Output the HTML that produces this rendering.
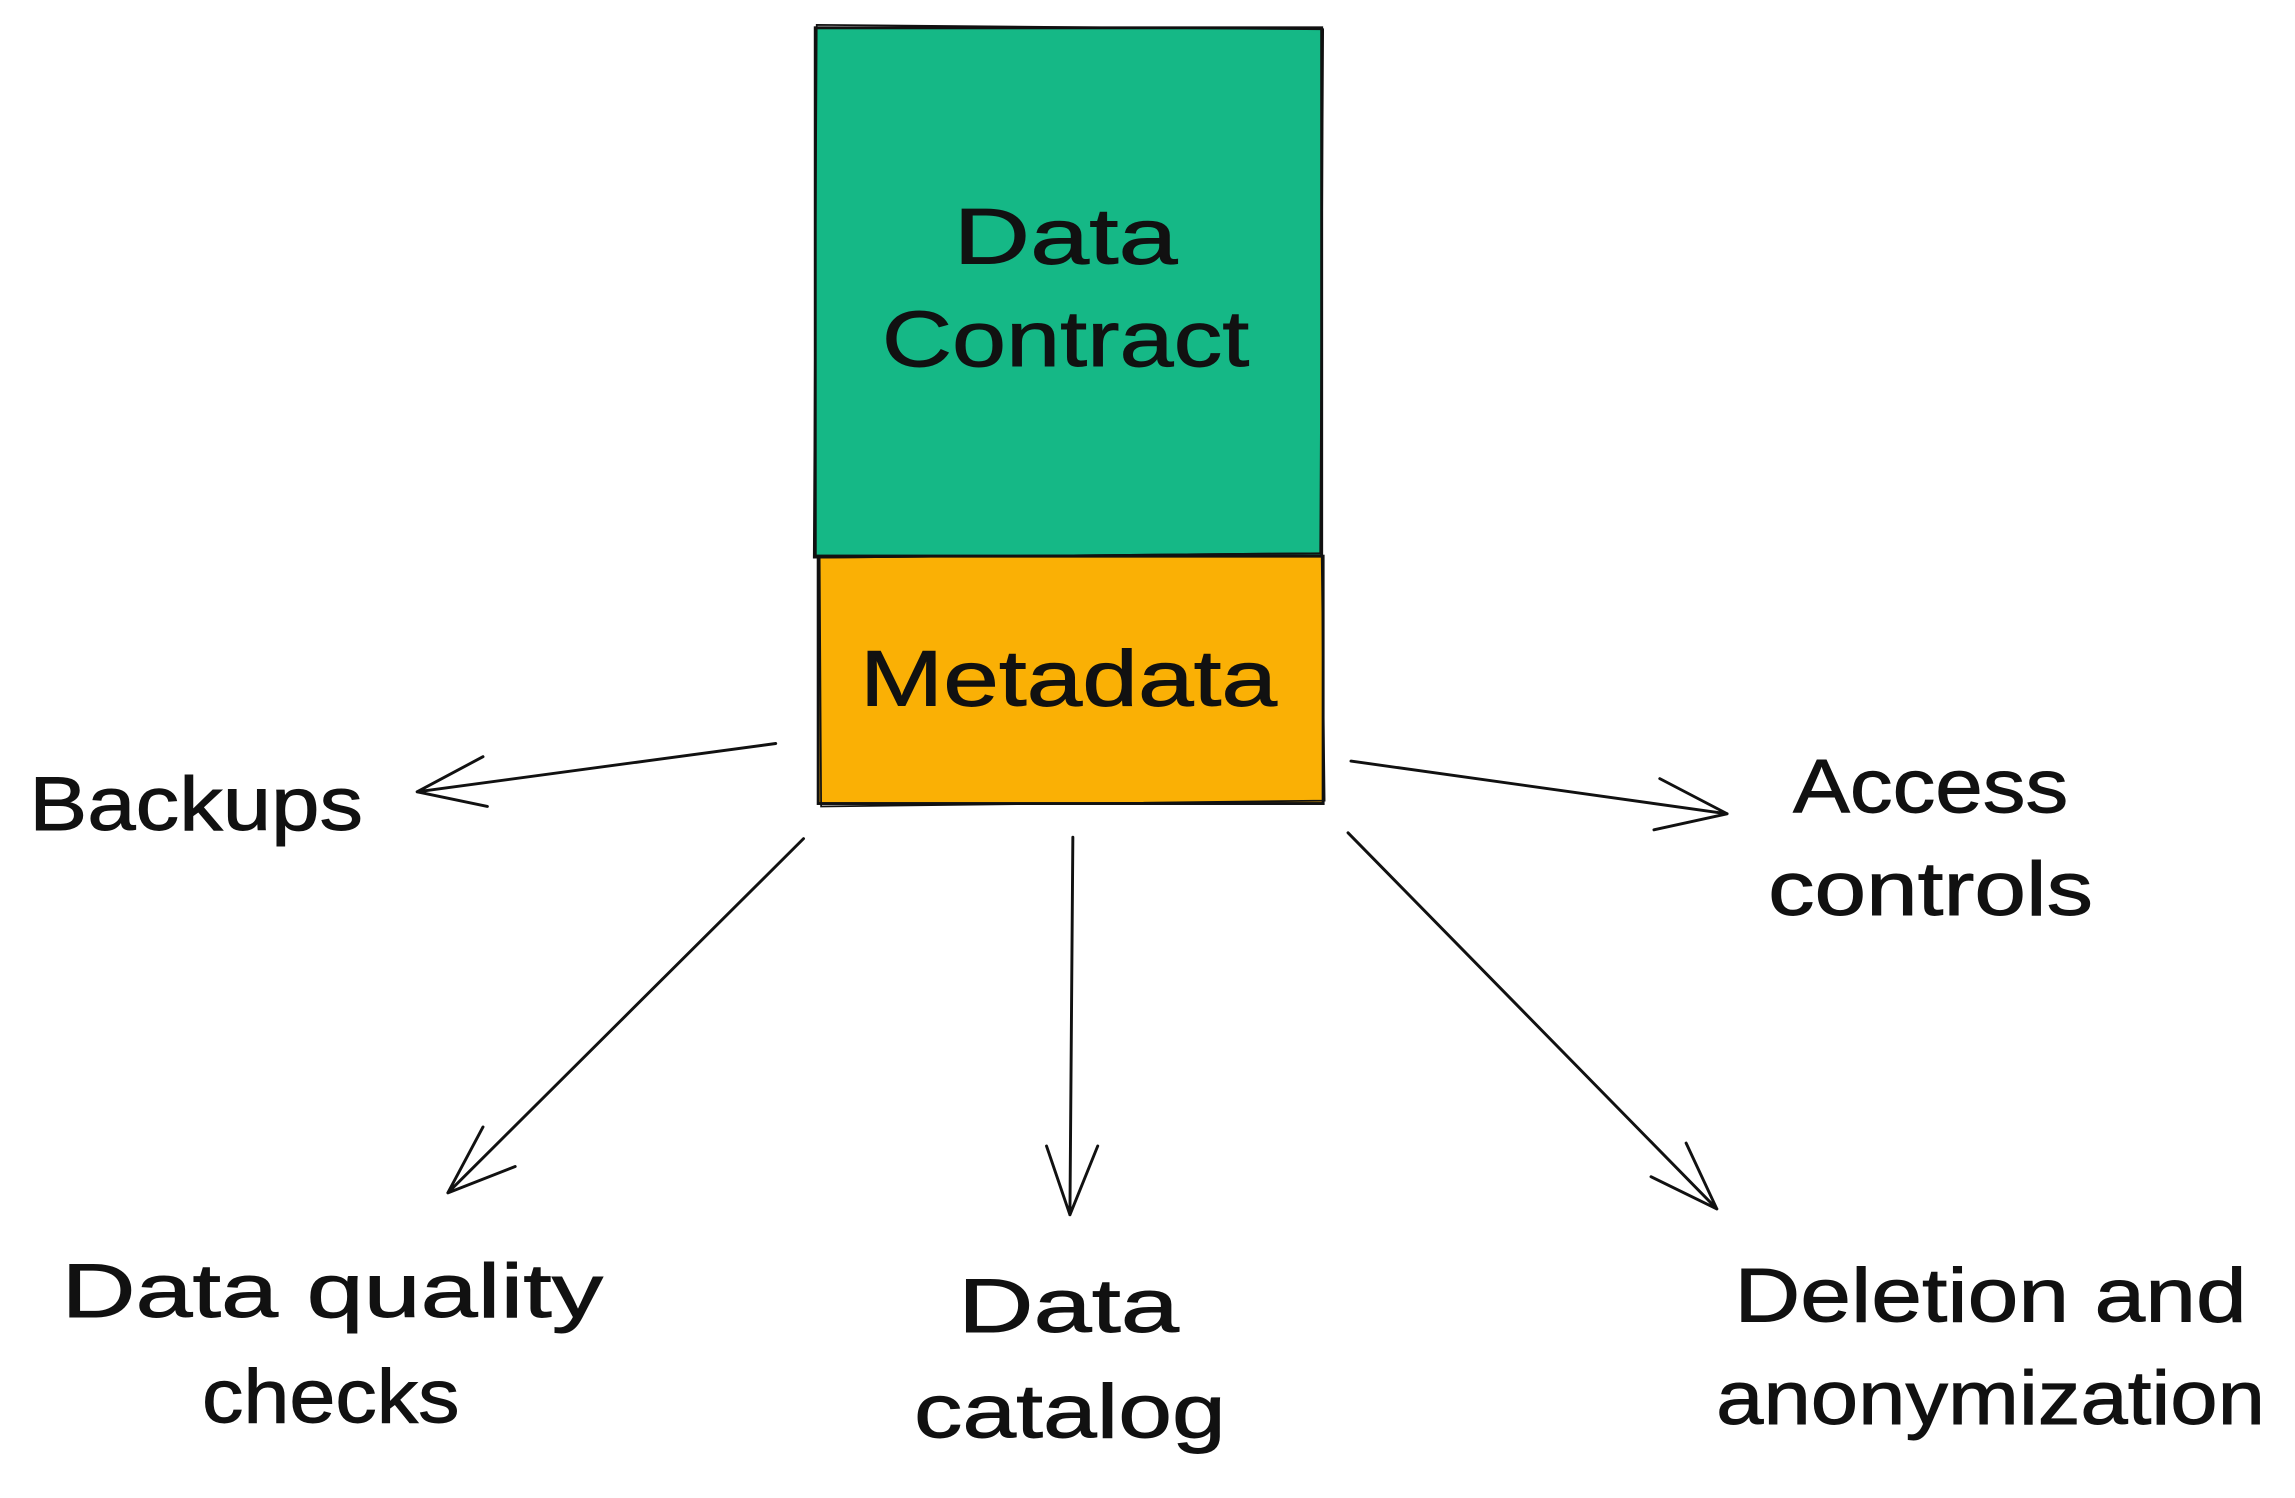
<!DOCTYPE html>
<html><head><meta charset="utf-8"><style>
html,body{margin:0;padding:0;background:#fff;}
svg{display:block}
text{font-family:"Liberation Sans",sans-serif;fill:#111;text-anchor:middle;stroke:#111;stroke-width:0.6;}
</style></head><body>
<svg width="2295" height="1498" viewBox="0 0 1568 1023.5" preserveAspectRatio="none" xmlns="http://www.w3.org/2000/svg">
<rect width="1568" height="1023.5" fill="#fff"/>
<rect x="557" y="19" width="346" height="361" fill="#15b886" stroke="#111" stroke-width="2"/>
<rect x="559" y="380" width="345" height="169" fill="#fab005" stroke="#111" stroke-width="2"/>
<g stroke="#111" stroke-width="1.2" fill="none">
<path d="M558 17 L904 20 L902 378 L556 381 Z"/>
<path d="M560 381 L903 378 L905 547 L561 551 Z"/>
</g>
<text x="728" y="180" font-size="54" textLength="153" lengthAdjust="spacingAndGlyphs">Data</text>
<text x="728" y="250" font-size="54" textLength="251" lengthAdjust="spacingAndGlyphs">Contract</text>
<text x="730" y="482" font-size="54" textLength="285" lengthAdjust="spacingAndGlyphs">Metadata</text>
<text x="134" y="567" font-size="52" textLength="228" lengthAdjust="spacingAndGlyphs">Backups</text>
<text x="1319" y="555" font-size="52" textLength="188" lengthAdjust="spacingAndGlyphs">Access</text>
<text x="1319" y="625" font-size="52" textLength="222" lengthAdjust="spacingAndGlyphs">controls</text>
<text x="227" y="900" font-size="52" textLength="370" lengthAdjust="spacingAndGlyphs">Data quality</text>
<text x="226" y="972" font-size="52" textLength="176" lengthAdjust="spacingAndGlyphs">checks</text>
<text x="730" y="910" font-size="52" textLength="151" lengthAdjust="spacingAndGlyphs">Data</text>
<text x="731" y="982" font-size="52" textLength="213" lengthAdjust="spacingAndGlyphs">catalog</text>
<text x="1360" y="903" font-size="52" textLength="350" lengthAdjust="spacingAndGlyphs">Deletion and</text>
<text x="1360" y="973" font-size="52" textLength="375" lengthAdjust="spacingAndGlyphs">anonymization</text>
<g stroke="#111" stroke-width="2" fill="none" stroke-linecap="round">
<path d="M530 508 L285 541 M285 541 L330 517 M285 541 L333 551"/>
<path d="M549 573 L306 815 M306 815 L330 770 M306 815 L352 797"/>
<path d="M733 572 L731 830 M731 830 L715 783 M731 830 L750 783"/>
<path d="M921 569 L1173 826 M1173 826 L1128 804 M1173 826 L1152 781"/>
<path d="M923 520 L1180 556 M1180 556 L1134 532 M1180 556 L1130 567"/>
</g>
</svg>
</body></html>
